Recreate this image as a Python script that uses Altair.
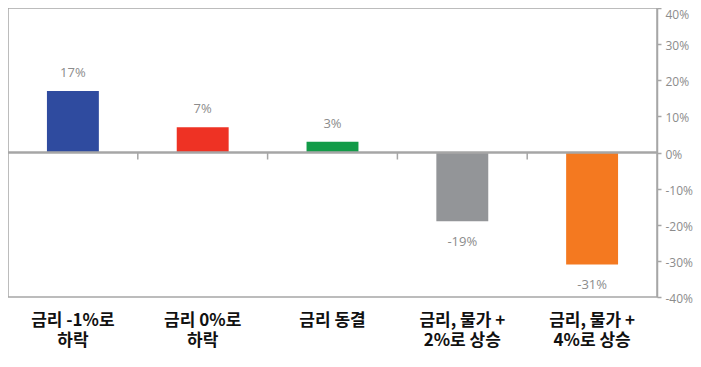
import altair as alt
import pandas as pd

categories = ["금리 -1%로\n하락", "금리 0%로\n하락", "금리 동결", "금리, 물가 +\n2%로 상승", "금리, 물가 +\n4%로 상승"]
values = [17, 7, 3, -19, -31]
colors = ["#2F4B9F", "#EE3224", "#129B48", "#939598", "#F47920"]
y_ticks = [-40, -30, -20, -10, 0, 10, 20, 30, 40]

df = pd.DataFrame({"cat": categories, "v": values, "color": colors})
df["label"] = [f"{v}%" for v in values]
bdf = pd.DataFrame({"cat": categories[1:]})

GREY = "#A6A6A6"
NUMFONT = "Liberation Sans Narrow, Open Sans, sans-serif"

xscale = alt.Scale(domain=categories, paddingInner=0, paddingOuter=0)
xaxis = alt.Axis(
    title=None, orient="bottom", domain=False, ticks=False, labelAngle=0,
    labelExpr="split(datum.label, '\\n')",
    labelFont="Noto Sans CJK KR", labelFontSize=17, labelFontWeight="bold",
    labelColor="#111111", labelBaseline="middle", labelLineHeight=20.5,
    labelPadding=23, labelOverlap=False,
)
yscale = alt.Scale(domain=[-40, 40], nice=False, zero=False)
yaxis = alt.Axis(
    title=None, orient="right", values=y_ticks, tickCount=9, grid=False,
    domainColor=GREY, domainWidth=1.5, tickColor=GREY, tickSize=4, tickWidth=1.5,
    labelExpr="(datum.value < 0 ? '-' : '') + abs(datum.value) + '%'",
    labelColor="#8C8C8C", labelFont=NUMFONT, labelFontSize=12, labelPadding=4,
    labelOverlap=False, labelOffset=1.5, labelBound=False,
    labelBaseline={"condition": {"test": "datum.value == 40", "value": "top"}, "value": "middle"},
)

X = alt.X("cat:N", sort=categories, scale=xscale, axis=xaxis)
Y = alt.Y("v:Q", scale=yscale, axis=yaxis)
Y0 = alt.YDatum(0, scale=yscale, axis=yaxis)
Y20 = alt.Y2Datum(0)

bars = alt.Chart(df).mark_bar(width=alt.RelativeBandSize(0.4)).encode(
    x=X, y=Y, color=alt.Color("color:N", scale=None),
)

zero = alt.Chart(df).mark_rule(color=GREY, strokeWidth=1.5).encode(y=Y0)

ticks = alt.Chart(bdf).mark_rule(color=GREY, strokeWidth=1.5, y2Offset=7).encode(
    x=alt.X("cat:N", sort=categories, scale=xscale, axis=xaxis, bandPosition=0),
    y=Y0,
    y2=Y20,
)

pos_labels = alt.Chart(df).transform_filter("datum.v >= 0").mark_text(
    dy=-18, font=NUMFONT, fontSize=13, color="#8C8C8C", baseline="middle"
).encode(x=X, y=Y, text="label:N")

neg_labels = alt.Chart(df).transform_filter("datum.v < 0").mark_text(
    dy=21, font=NUMFONT, fontSize=13, color="#8C8C8C", baseline="middle"
).encode(x=X, y=Y, text="label:N")

chart = alt.layer(bars, zero, ticks, pos_labels, neg_labels).properties(
    width=649, height=289, background="white",
    padding={"left": 0, "top": 0, "right": 36, "bottom": 62},
    autosize=alt.AutoSizeParams(type="none"),
).configure_view(stroke=GREY, strokeWidth=1.5)

chart.save("out.html", embed_options={"renderer": "svg", "actions": False})
